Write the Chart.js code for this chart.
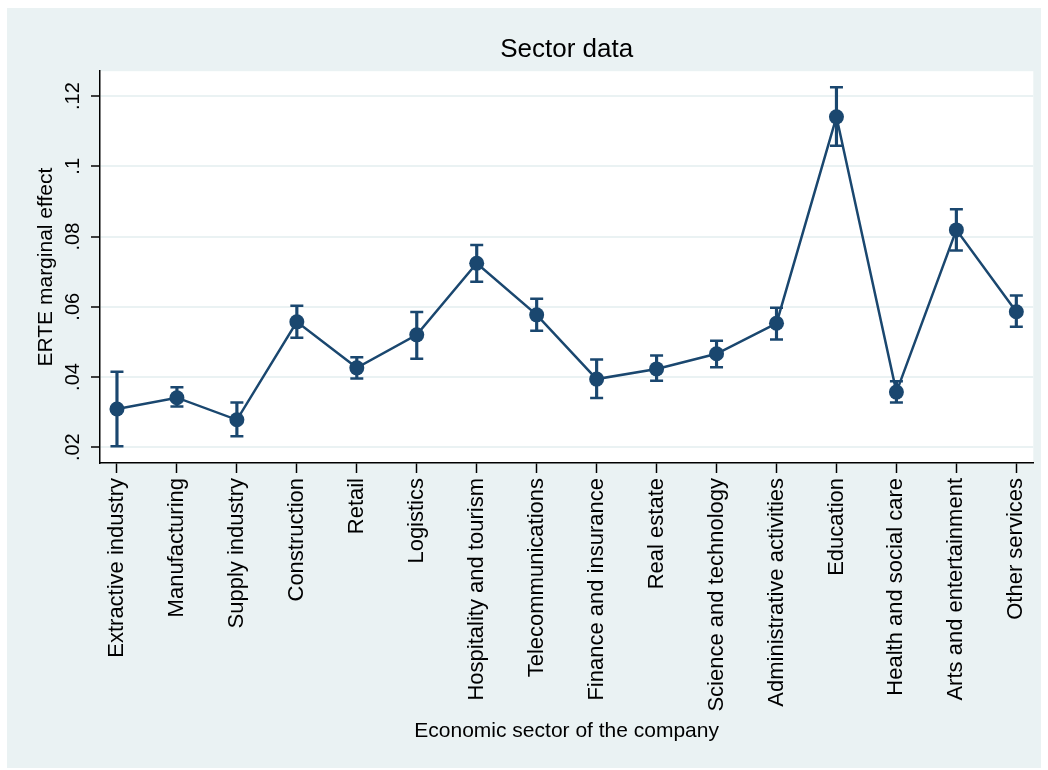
<!DOCTYPE html>
<html>
<head>
<meta charset="utf-8">
<title>Sector data</title>
<script src="https://cdn.jsdelivr.net/npm/chart.js@4.4.1/dist/chart.umd.min.js"></script>
<style>
  html, body { margin: 0; padding: 0; background: #ffffff; }
  #wrap { width: 1048px; height: 770px; }
  canvas { display: block; }
</style>
</head>
<body>
<div id="wrap"><canvas id="chart" width="1048" height="770"></canvas></div>
<script>
// Economic sectors (x categories)
const sectors = [
  "Extractive industry", "Manufacturing", "Supply industry", "Construction",
  "Retail", "Logistics", "Hospitality and tourism", "Telecommunications",
  "Finance and insurance", "Real estate", "Science and technology",
  "Administrative activities", "Education", "Health and social care",
  "Arts and entertainment", "Other services"
];

// Point estimates of the ERTE marginal effect
const effect = [
  0.0309, 0.0341, 0.0278, 0.0557, 0.0426, 0.0520, 0.0724, 0.0577,
  0.0394, 0.0423, 0.0466, 0.0553, 0.1141, 0.0357, 0.0819, 0.0586
];

// Confidence interval bounds
const ciLower = [
  0.0203, 0.0316, 0.0231, 0.0512, 0.0396, 0.0452, 0.0671, 0.0532,
  0.0340, 0.0389, 0.0428, 0.0507, 0.1059, 0.0327, 0.0760, 0.0543
];
const ciUpper = [
  0.0415, 0.0371, 0.0327, 0.0603, 0.0456, 0.0585, 0.0776, 0.0623,
  0.0450, 0.0461, 0.0503, 0.0597, 0.1225, 0.0388, 0.0878, 0.0632
];

// Y-axis ticks
const yTickValues = [0.02, 0.04, 0.06, 0.08, 0.10, 0.12];
const yTickLabels = [".02", ".04", ".06", ".08", ".1", ".12"];

const NAVY = "#1a476f";
const PANEL = "#eaf2f3";

Chart.defaults.font.family = "'Liberation Sans', Arial, Helvetica, sans-serif";
Chart.defaults.color = "#000000";

// Page / plot region backgrounds
const backgrounds = {
  id: "backgrounds",
  beforeDraw(chart) {
    const { ctx, width, height, chartArea: ca } = chart;
    ctx.save();
    ctx.fillStyle = "#ffffff";
    ctx.fillRect(0, 0, width, height);
    ctx.fillStyle = PANEL;
    ctx.fillRect(7, 8, width - 14, height - 10);
    ctx.fillStyle = "#ffffff";
    ctx.fillRect(ca.left, ca.top, ca.right - ca.left, ca.bottom - ca.top);
    ctx.restore();
  }
};

const idx = sectors.map((_, i) => i);

new Chart(document.getElementById("chart"), {
  type: "line",
  data: {
    datasets: [
      {
        type: "line",
        label: "Marginal effect",
        data: idx.map(i => ({ x: i, y: effect[i] })),
        borderColor: NAVY,
        borderWidth: 2.5,
        backgroundColor: NAVY,
        pointBackgroundColor: NAVY,
        pointBorderWidth: 0,
        pointRadius: 7.5,
        tension: 0,
        fill: false,
        order: 0
      },
      {
        type: "scatter",
        label: "Upper bound",
        data: idx.map(i => ({ x: i, y: ciUpper[i] })),
        pointStyle: "line",
        pointRadius: 6.5,
        borderColor: NAVY,
        pointBorderWidth: 2.5,
        showLine: false,
        order: 1
      },
      {
        type: "scatter",
        label: "Lower bound",
        data: idx.map(i => ({ x: i, y: ciLower[i] })),
        pointStyle: "line",
        pointRadius: 6.5,
        borderColor: NAVY,
        pointBorderWidth: 2.5,
        showLine: false,
        order: 1
      },
      {
        type: "bar",
        label: "Confidence interval",
        data: idx.map(i => ({ x: i, y: [ciLower[i], ciUpper[i]] })),
        backgroundColor: NAVY,
        borderWidth: 0,
        barThickness: 2.5,
        order: 2
      }
    ]
  },
  options: {
    responsive: false,
    animation: false,
    devicePixelRatio: 1,
    events: [],
    layout: { padding: { left: 0, right: 12, top: 0, bottom: 0 } },
    plugins: {
      legend: { display: false },
      tooltip: { enabled: false },
      title: {
        display: true,
        text: "Sector data",
        fullSize: false,
        color: "#000000",
        font: { size: 26, weight: "normal" },
        padding: { top: 34, bottom: 6 }
      }
    },
    scales: {
      x: {
        type: "linear",
        min: -0.283,
        max: 15.283,
        offset: false,
        afterBuildTicks: s => { s.ticks = idx.map(i => ({ value: i })); },
        afterFit: s => { s.height = 307; },
        ticks: {
          autoSkip: false,
          minRotation: 90,
          maxRotation: 90,
          padding: 5,
          color: "#000000",
          font: { size: 22 },
          callback: (v, i) => sectors[i]
        },
        grid: {
          offset: false,
          drawOnChartArea: false,
          drawTicks: true,
          tickLength: 10,
          tickColor: "#000000",
          tickWidth: 1.5
        },
        border: { display: true, color: "#000000", width: 1.5 },
        title: {
          display: true,
          text: "Economic sector of the company",
          color: "#000000",
          font: { size: 21 },
          padding: { top: 0, bottom: 26 }
        }
      },
      y: {
        type: "linear",
        min: 0.0155,
        max: 0.1271,
        afterBuildTicks: s => { s.ticks = yTickValues.map(v => ({ value: v })); },
        afterFit: s => { s.width = 100; },
        ticks: {
          minRotation: 90,
          maxRotation: 90,
          crossAlign: "center",
          padding: 4,
          color: "#000000",
          font: { size: 20 },
          callback: (v, i) => yTickLabels[i]
        },
        grid: {
          color: PANEL,
          lineWidth: 2,
          drawTicks: true,
          tickLength: 9,
          tickColor: "#000000",
          tickWidth: 1.5
        },
        border: { display: true, color: "#000000", width: 1.5 },
        title: {
          display: true,
          text: "ERTE marginal effect",
          color: "#000000",
          font: { size: 21 },
          padding: { top: 34, bottom: 0 }
        }
      }
    }
  },
  plugins: [backgrounds]
});
</script>
</body>
</html>
